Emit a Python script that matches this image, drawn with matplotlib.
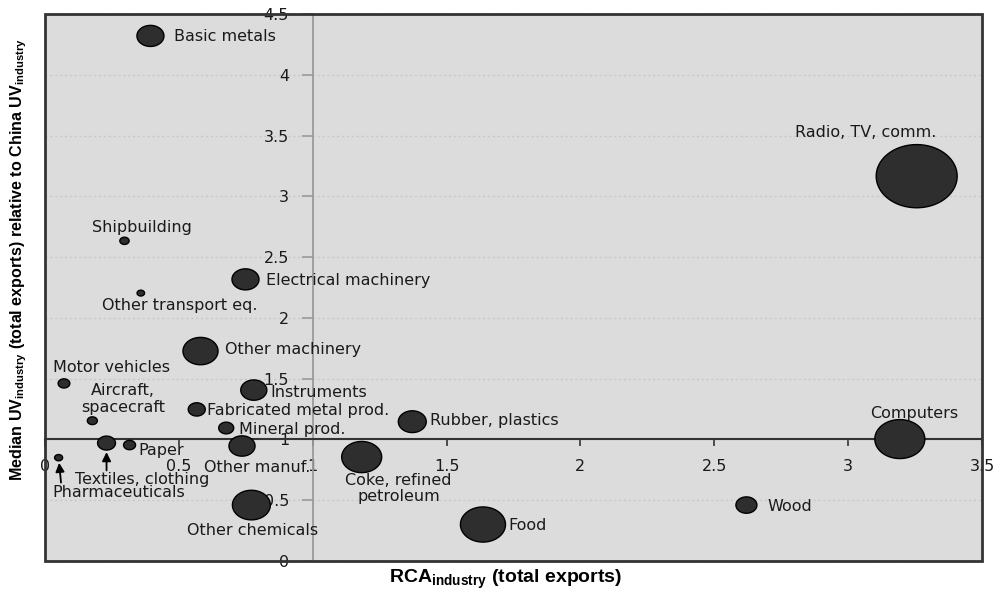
import numpy as np
import matplotlib
matplotlib.use("Agg")
import matplotlib.pyplot as plt
from matplotlib.path import Path
from matplotlib.patches import Rectangle

# Industry data: RCA (x), median unit-value ratio vs China (y), bubble weight (area)
industries = [
    "Basic metals", "Radio, TV, comm.", "Computers", "Wood", "Food",
    "Coke, refined\npetroleum", "Rubber, plastics", "Other chemicals",
    "Other manuf.", "Mineral prod.", "Fabricated metal prod.", "Instruments",
    "Other machinery", "Electrical machinery", "Shipbuilding",
    "Other transport eq.", "Motor vehicles", "Aircraft,\nspacecraft",
    "Textiles, clothing", "Paper", "Pharmaceuticals",
]
rca = [0.394, 3.256, 3.193, 2.620, 1.636, 1.183, 1.372, 0.771, 0.736, 0.677,
       0.567, 0.780, 0.581, 0.749, 0.297, 0.358, 0.071, 0.177, 0.230, 0.316,
       0.051]
uv_ratio = [4.32, 3.166, 1.003, 0.46, 0.30, 0.855, 1.146, 0.46, 0.946, 1.094,
            1.247, 1.406, 1.727, 2.317, 2.634, 2.204, 1.461, 1.154, 0.97, 0.954,
            0.85]
weight = [7.3, 65.6, 25.0, 4.4, 20.3, 16.0, 7.8, 14.4, 6.8, 2.25,
          2.9, 6.8, 12.3, 7.3, 0.86, 0.56, 1.37, 1.0, 3.2, 1.44,
          0.64]

x_ticks = [0, 0.5, 1, 1.5, 2, 2.5, 3, 3.5]
x_tick_labels = ["0", "0.5", "1", "1.5", "2", "2.5", "3", "3.5"]
y_ticks = [0, 0.5, 1, 1.5, 2, 2.5, 3, 3.5, 4, 4.5]
y_tick_labels = ["0", "0.5", "1", "1.5", "2", "2.5", "3", "3.5", "4", "4.5"]

# Label placement (data coords, horizontal alignment)
label_pos = {
    "Basic metals": (0.481, 4.317, "left"),
    "Radio, TV, comm.": (3.067, 3.525, "center"),
    "Computers": (3.248, 1.217, "center"),
    "Wood": (2.699, 0.447, "left"),
    "Food": (1.732, 0.290, "left"),
    "Coke, refined\npetroleum": (1.321, 0.595, "center"),
    "Rubber, plastics": (1.440, 1.157, "left"),
    "Other chemicals": (0.775, 0.247, "center"),
    "Other manuf.": (0.791, 0.771, "center"),
    "Mineral prod.": (0.724, 1.083, "left"),
    "Fabricated metal prod.": (0.606, 1.242, "left"),
    "Instruments": (0.843, 1.384, "left"),
    "Other machinery": (0.672, 1.743, "left"),
    "Electrical machinery": (0.827, 2.311, "left"),
    "Shipbuilding": (0.362, 2.747, "center"),
    "Other transport eq.": (0.503, 2.105, "center"),
    "Motor vehicles": (0.247, 1.590, "center"),
    "Aircraft,\nspacecraft": (0.292, 1.332, "center"),
    "Textiles, clothing": (0.365, 0.674, "center"),
    "Paper": (0.348, 0.913, "left"),
    "Pharmaceuticals": (0.277, 0.562, "center"),
}
# Labels connected to their bubble by an arrow (arrow tail in data coords)
arrow_tails = {
    "Textiles, clothing": (0.230, 0.745),
    "Pharmaceuticals": (0.060, 0.645),
}

plt.rcParams["mathtext.fontset"] = "custom"
plt.rcParams["mathtext.rm"] = "Liberation Sans:bold"
plt.rcParams["mathtext.bf"] = "Liberation Sans:bold"

fig = plt.figure(figsize=(9.99, 5.9), dpi=100)
ax = fig.add_axes([0.045, 0.0492, 0.938, 0.927])
ax.set_facecolor("#dcdcdc")
ax.set_xlim(0, 3.5)
ax.set_ylim(0, 4.5)

# Axes crossing at (1, 1)
for side in ("top", "right"):
    ax.spines[side].set_visible(False)
ax.spines["left"].set_position(("data", 1))
ax.spines["bottom"].set_position(("data", 1))
ax.spines["left"].set_color("#9a9a9a")
ax.spines["left"].set_linewidth(1.3)
ax.spines["bottom"].set_color("#333333")
ax.spines["bottom"].set_linewidth(1.5)

ax.add_patch(Rectangle((0, 0), 1, 1, transform=ax.transAxes, fill=False,
                       ec="#333333", lw=2.0, clip_on=False, zorder=5))

ax.set_xticks(x_ticks)
ax.set_xticklabels(x_tick_labels)
ax.set_yticks(y_ticks)
ax.set_yticklabels(y_tick_labels)
ax.tick_params(axis="x", direction="out", length=5, width=1.2, color="#333333",
               pad=9, labelsize=11.5, labelcolor="#1a1a1a")
ax.tick_params(axis="y", direction="out", length=8, width=1.2, color="#9a9a9a",
               pad=9, labelsize=11.5, labelcolor="#1a1a1a")

ax.yaxis.grid(True, linestyle=(0, (1.5, 2)), color="#c8c8c8", lw=1.0)
ax.set_axisbelow(True)

# Elliptical bubble marker
theta = np.linspace(0, 2 * np.pi, 97)
ellipse = Path(np.column_stack([np.cos(theta), 0.78 * np.sin(theta)]), closed=True)

sizes = 51.84 * np.asarray(weight)
ax.scatter(rca, uv_ratio, s=sizes, marker=ellipse, facecolor="#2e2e2e",
           edgecolor="black", linewidth=1.0, zorder=4)

for name, x, y, w in zip(industries, rca, uv_ratio, weight):
    lx, ly, ha = label_pos[name]
    ax.text(lx, ly, name, ha=ha, va="center", fontsize=11.5, color="#1a1a1a",
            linespacing=1.1, zorder=6)
    if name in arrow_tails:
        tx, ty = arrow_tails[name]
        half_h = 0.5 * 0.78 * 7.2 * np.sqrt(w)  # half bubble height, points
        ax.annotate("", xy=(x, y), xytext=(tx, ty),
                    arrowprops=dict(arrowstyle="-|>", color="black", lw=1.3,
                                    mutation_scale=13, shrinkA=0,
                                    shrinkB=half_h + 1.5),
                    zorder=6)

fig.text(0.5065, 0.019,
         r"RCA$_{\mathbf{industry}}$ (total exports)",
         ha="center", va="center", fontsize=14, fontweight="bold",
         family="Liberation Sans")
fig.text(0.019, 0.561,
         r"Median UV$_{\mathrm{industry}}$ (total exports) relative to China UV$_{\mathrm{industry}}$",
         ha="center", va="center", rotation=90, fontsize=11.6, fontweight="bold",
         family="Liberation Sans")

fig.savefig("out.png", dpi=100, facecolor="white")
